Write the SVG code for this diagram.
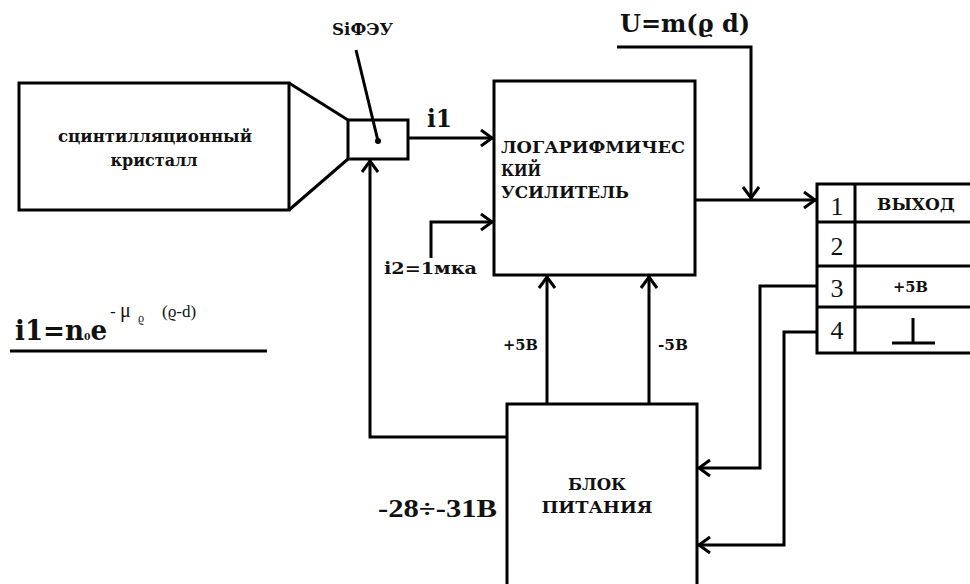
<svg xmlns="http://www.w3.org/2000/svg" width="970" height="584" viewBox="0 0 970 584">
<style>
.box{fill:none;stroke:#000;stroke-width:3}
.ln{fill:none;stroke:#000;stroke-width:3}
.t{font-family:"DejaVu Serif",serif;font-weight:bold;fill:#111}
.n{font-family:"Liberation Serif",serif;fill:#111}
.nb{font-family:"Liberation Serif",serif;font-weight:bold;fill:#111}
</style>
<defs>
<marker id="arr" viewBox="-14 -10 16 20" markerWidth="16" markerHeight="20" refX="0" refY="0" orient="auto" markerUnits="userSpaceOnUse">
<path d="M-12,-8 L-1,0 L-12,8" fill="none" stroke="#000" stroke-width="3"/>
</marker>
</defs>
<rect width="970" height="584" fill="#fff"/>

<g id="crystal">
<rect class="box" x="19" y="83" width="270" height="127"/>
<path class="ln" d="M289,83 L348,120 M289,210 L348,159"/>
<text class="t" x="155" y="142" font-size="16" text-anchor="middle" textLength="194" lengthAdjust="spacingAndGlyphs">сцинтилляционный</text>
<text class="t" x="154" y="166" font-size="16" text-anchor="middle" textLength="87" lengthAdjust="spacingAndGlyphs">кристалл</text>
</g>

<g id="sipm">
<rect class="box" x="348" y="120" width="60" height="39"/>
<circle cx="378" cy="141" r="3" fill="#000"/>
<path class="ln" d="M356,50 L378,141" stroke-width="2.5"/>
<text class="t" x="332" y="35" font-size="17" textLength="61" lengthAdjust="spacingAndGlyphs">SiФЭУ</text>
</g>

<g id="logamp">
<rect class="box" x="494" y="81" width="201" height="194"/>
<text class="t" x="501" y="153" font-size="16" textLength="184" lengthAdjust="spacingAndGlyphs">ЛОГАРИФМИЧЕС</text>
<text class="t" x="501" y="176" font-size="16" textLength="40" lengthAdjust="spacingAndGlyphs">КИЙ</text>
<text class="t" x="501" y="198" font-size="16" textLength="128" lengthAdjust="spacingAndGlyphs">УСИЛИТЕЛЬ</text>
</g>

<g id="power">
<rect class="box" x="507" y="404" width="190" height="190"/>
<text class="t" x="597" y="490" font-size="16" text-anchor="middle" textLength="58" lengthAdjust="spacingAndGlyphs">БЛОК</text>
<text class="t" x="597" y="513" font-size="16" text-anchor="middle" textLength="111" lengthAdjust="spacingAndGlyphs">ПИТАНИЯ</text>
</g>

<g id="connector">
<rect class="box" x="817" y="184" width="160" height="169"/>
<path class="ln" d="M855,184 V353 M817,222 H977 M817,266 H977 M817,307 H977"/>
<text class="n" x="837" y="215" font-size="26" text-anchor="middle">1</text>
<text class="n" x="837" y="255" font-size="26" text-anchor="middle">2</text>
<text class="n" x="837" y="297" font-size="26" text-anchor="middle">3</text>
<text class="n" x="837" y="339" font-size="26" text-anchor="middle">4</text>
<text class="t" x="877" y="210" font-size="16" textLength="78" lengthAdjust="spacingAndGlyphs">ВЫХОД</text>
<text class="t" x="893" y="292" font-size="15" textLength="35" lengthAdjust="spacingAndGlyphs">+5В</text>
<path class="ln" d="M913,318 V343 M892,343 H935"/>
</g>

<g id="connectors">
<path class="ln" d="M408,138 H493" marker-end="url(#arr)"/>
<path class="ln" d="M431,258 V222 H493" marker-end="url(#arr)"/>
<path class="ln" d="M547,404 V276" marker-end="url(#arr)"/>
<path class="ln" d="M649,404 V276" marker-end="url(#arr)"/>
<path class="ln" d="M507,437 H370 V160" marker-end="url(#arr)"/>
<path class="ln" d="M695,200 H816" marker-end="url(#arr)"/>
<path class="ln" d="M617,47 H751 V199" marker-end="url(#arr)"/>
<path class="ln" d="M817,286 H760 V468 H698" marker-end="url(#arr)"/>
<path class="ln" d="M817,332 H784 V545 H698" marker-end="url(#arr)"/>
</g>

<g id="labels">
<text class="t" x="427" y="127" font-size="25" textLength="25" lengthAdjust="spacingAndGlyphs">i1</text>
<text class="t" x="384" y="274" font-size="16" textLength="93" lengthAdjust="spacingAndGlyphs">i2=1мка</text>
<text class="t" x="503" y="350" font-size="15" textLength="35" lengthAdjust="spacingAndGlyphs">+5В</text>
<text class="t" x="658" y="350" font-size="15" textLength="30" lengthAdjust="spacingAndGlyphs">-5В</text>
<text class="t" x="620" y="32" font-size="24" textLength="130" lengthAdjust="spacingAndGlyphs">U=m(ϱ d)</text>
<text class="nb" x="378" y="517" font-size="26" textLength="119" lengthAdjust="spacingAndGlyphs">-28÷-31В</text>
<text class="t" x="15" y="340" font-size="28" textLength="92" lengthAdjust="spacingAndGlyphs">i1=n<tspan font-size="10">0</tspan>e</text>
<text class="n" x="110" y="317" font-size="17">- <tspan x="120" font-size="20">μ</tspan><tspan x="138" dy="5" font-size="12">ϱ</tspan><tspan x="162" dy="-5">(ϱ-d)</tspan></text>
<path class="ln" d="M10,351 H267"/>
</g>
</svg>
